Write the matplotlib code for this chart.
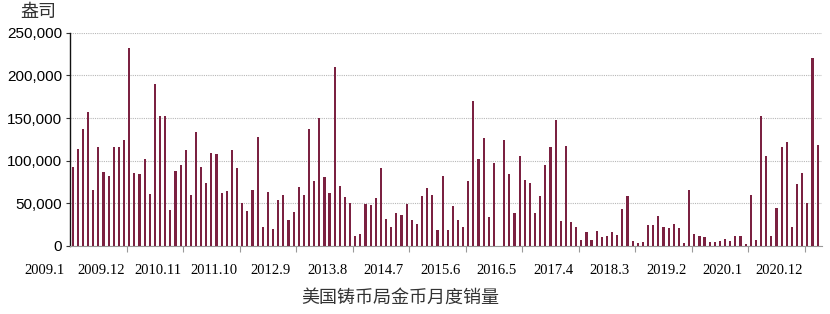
import matplotlib
matplotlib.use("Agg")
import matplotlib.pyplot as plt
import numpy as np

# US Mint gold coin monthly sales (ounces), 2009.1 - 2021.2
sales = [
    92600, 113700, 136700, 157400, 65600, 116000, 86700, 82400, 115600, 115600, 124200, 231600,
    85200, 84000, 102000, 60500, 189800, 152300, 152300, 41800, 88300, 94500, 112000, 60200,
    133600, 92600, 73800, 108600, 107400, 61700, 64800, 112000, 91400, 50400, 41400, 66000,
    127300, 21900, 62900, 20300, 53500, 60200, 30900, 39500, 68700, 59400, 136700, 76600,
    150000, 80900, 62500, 209800, 70300, 57400, 50800, 12100, 13700, 49200, 48400, 56200,
    91800, 31600, 22300, 39000, 35900, 49200, 30500, 25400, 58200, 68000, 60200, 18400,
    81600, 18700, 46900, 30100, 22300, 76600, 170300, 102000, 126200, 34400, 97300, 500,
    124200, 84000, 38700, 105500, 77000, 73800, 39000, 59000, 94900, 116000, 147700, 29300,
    117600, 27700, 21900, 6600, 16000, 6600, 17600, 10200, 12100, 16000, 12500, 43700,
    59000, 6200, 3900, 5100, 24600, 25000, 35500, 22700, 21100, 25400, 21100, 3100,
    66000, 13700, 12100, 10500, 4700, 5100, 5900, 8200, 6200, 12100, 11700, 2300,
    60200, 7400, 152300, 105500, 12100, 44500, 115600, 121500, 22700, 72300, 85200, 50000,
    220700, 118700,
]
tick_labels = ["2009.1", "2009.12", "2010.11", "2011.10", "2012.9", "2013.8", "2014.7",
               "2015.6", "2016.5", "2017.4", "2018.3", "2019.2", "2020.1", "2020.12"]
yticks = [0, 50000, 100000, 150000, 200000, 250000]

x = np.arange(len(sales))

fig = plt.figure(figsize=(8.3, 3.14), dpi=100)
ax = fig.add_axes([0.0847, 0.2166, 0.9053, 0.6793])

ax.bar(x, sales, width=0.42, color="#7b2141", zorder=3)

# gridlines
ax.set_yticks(yticks)
ax.set_yticklabels([f"{v:,}" for v in yticks], fontsize=11, family="Liberation Sans")
ax.yaxis.grid(True, linestyle=(0, (1, 1)), color="#b8b8b8", linewidth=0.8, zorder=0)
ax.tick_params(axis="y", length=3, width=0.8, color="#333333", pad=3)

# x ticks at group boundaries, labels between them
bounds = np.arange(len(tick_labels)) * 11 - 0.5
ax.set_xticks(bounds)
ax.set_xticklabels([])
ax.tick_params(axis="x", which="major", length=4, width=0.8, color="#999999")
for pos, lab in zip(bounds - 5, tick_labels):
    ax.text(pos, -0.117, lab, transform=ax.get_xaxis_transform(), ha="center", va="center",
            fontsize=10.5, family="Liberation Serif", clip_on=False)

ax.set_xlim(-0.47, len(sales) - 0.2)
ax.set_ylim(0, 250000)

for s in ["top", "right"]:
    ax.spines[s].set_visible(False)
ax.spines["left"].set_color("#111111")
ax.spines["left"].set_linewidth(1.0)
ax.spines["bottom"].set_color("#999999")
ax.spines["bottom"].set_linewidth(0.8)

fig.text(0.0464, 0.962, "盎司", fontsize=13, family=["Noto Sans CJK SC", "DejaVu Sans"],
         ha="center", va="center", color="#333333")
fig.text(0.4825, 0.051, "美国铸币局金币月度销量", fontsize=13,
         family=["Noto Sans CJK SC", "DejaVu Sans"], ha="center", va="center", color="#333333")

fig.savefig("out.png", dpi=100)
